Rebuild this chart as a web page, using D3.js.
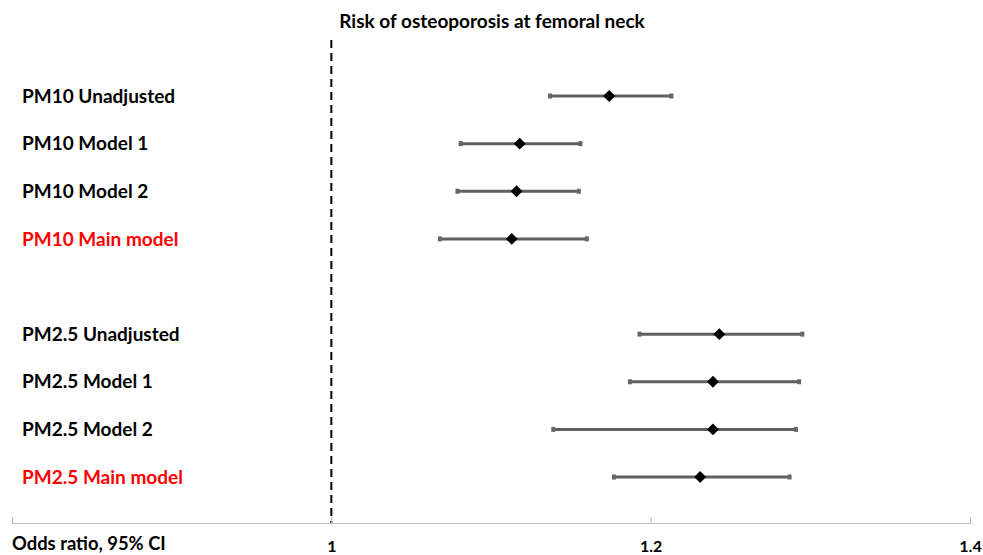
<!DOCTYPE html>
<html>
<head>
<meta charset="utf-8">
<script src="https://cdn.jsdelivr.net/npm/d3@7"></script>
<style>
  html, body { margin: 0; padding: 0; background: #fff; }
  svg { display: block; font-family: Lato, "Open Sans", sans-serif; }
</style>
</head>
<body>
<svg id="chart" width="983" height="555"></svg>
<script>
// Forest plot rows (blank entry separates the two pollutant groups)
const labels = [
  "PM10 Unadjusted", "PM10 Model 1", "PM10 Model 2", "PM10 Main model",
  "",
  "PM2.5 Unadjusted", "PM2.5 Model 1", "PM2.5 Model 2", "PM2.5 Main model"
];
const oddsRatio = [1.174, 1.118, 1.116, 1.113, null, 1.243, 1.239, 1.239, 1.231];
const lowerCI   = [1.137, 1.081, 1.079, 1.068, null, 1.193, 1.187, 1.139, 1.177];
const upperCI   = [1.213, 1.156, 1.155, 1.160, null, 1.295, 1.293, 1.291, 1.287];
const highlighted = ["PM10 Main model", "PM2.5 Main model"];
const tickValues = [0.8, 1, 1.2, 1.4];
const tickLabels = ["", "1", "1.2", "1.4"];

const rows = labels.map((label, i) => ({
  key: "r" + i, label, or: oddsRatio[i], lo: lowerCI[i], hi: upperCI[i]
}));

const svg = d3.select("#chart");

const x = d3.scaleLinear().domain([0.8, 1.4]).range([12, 970]);
const y = d3.scalePoint().domain(rows.map(d => d.key)).range([96, 477]);
const axisY = 523;

// Title
svg.append("text")
  .attr("x", 492).attr("y", 28)
  .attr("text-anchor", "middle")
  .attr("font-size", 19).attr("font-weight", 700)
  .attr("fill", "#000")
  .text("Risk of osteoporosis at femoral neck");

// Reference line at OR = 1
svg.append("line")
  .attr("x1", x(1)).attr("x2", x(1))
  .attr("y1", 40).attr("y2", axisY)
  .attr("stroke", "#000").attr("stroke-width", 2)
  .attr("stroke-dasharray", "8,5");

// X axis
const axis = d3.axisBottom(x)
  .tickValues(tickValues)
  .tickSize(-6)
  .tickFormat((d, i) => tickLabels[i]);
const gAxis = svg.append("g")
  .attr("transform", `translate(0,${axisY})`)
  .call(axis);
gAxis.select(".domain").attr("stroke", "#bfbfbf").attr("stroke-width", 1.2);
gAxis.selectAll(".tick line").attr("stroke", "#bfbfbf").attr("stroke-width", 1.2);
gAxis.selectAll(".tick text")
  .attr("y", 29).attr("dy", null)
  .attr("font-family", "Lato, sans-serif")
  .attr("font-size", 16).attr("font-weight", 700).attr("fill", "#000");

svg.append("text")
  .attr("x", 12).attr("y", 550)
  .attr("font-size", 18.4).attr("font-weight", 700).attr("fill", "#000")
  .text("Odds ratio, 95% CI");

// Row labels
svg.append("g").selectAll("text")
  .data(rows.filter(d => d.label))
  .join("text")
  .attr("x", 22)
  .attr("y", d => y(d.key))
  .attr("dy", "0.35em")
  .attr("font-size", 19).attr("font-weight", 700)
  .attr("fill", d => highlighted.includes(d.label) ? "#ff0000" : "#000")
  .text(d => d.label);

const est = rows.filter(d => d.or != null);

// Confidence interval bars
const ci = svg.append("g").selectAll("g")
  .data(est)
  .join("g");
ci.append("line")
  .attr("x1", d => x(d.lo)).attr("x2", d => x(d.hi))
  .attr("y1", d => y(d.key)).attr("y2", d => y(d.key))
  .attr("stroke", "#5f5f5f").attr("stroke-width", 3);
ci.append("rect")
  .attr("x", d => x(d.lo) - 2).attr("y", d => y(d.key) - 2.5)
  .attr("width", 4).attr("height", 5).attr("fill", "#666");
ci.append("rect")
  .attr("x", d => x(d.hi) - 2).attr("y", d => y(d.key) - 2.5)
  .attr("width", 4).attr("height", 5).attr("fill", "#666");

// Point estimates (diamonds)
svg.append("g").selectAll("path")
  .data(est)
  .join("path")
  .attr("transform", d => `translate(${x(d.or)},${y(d.key)})`)
  .attr("d", d3.symbol().type(d3.symbolDiamond2).size(90))
  .attr("fill", "#000");
</script>
</body>
</html>
